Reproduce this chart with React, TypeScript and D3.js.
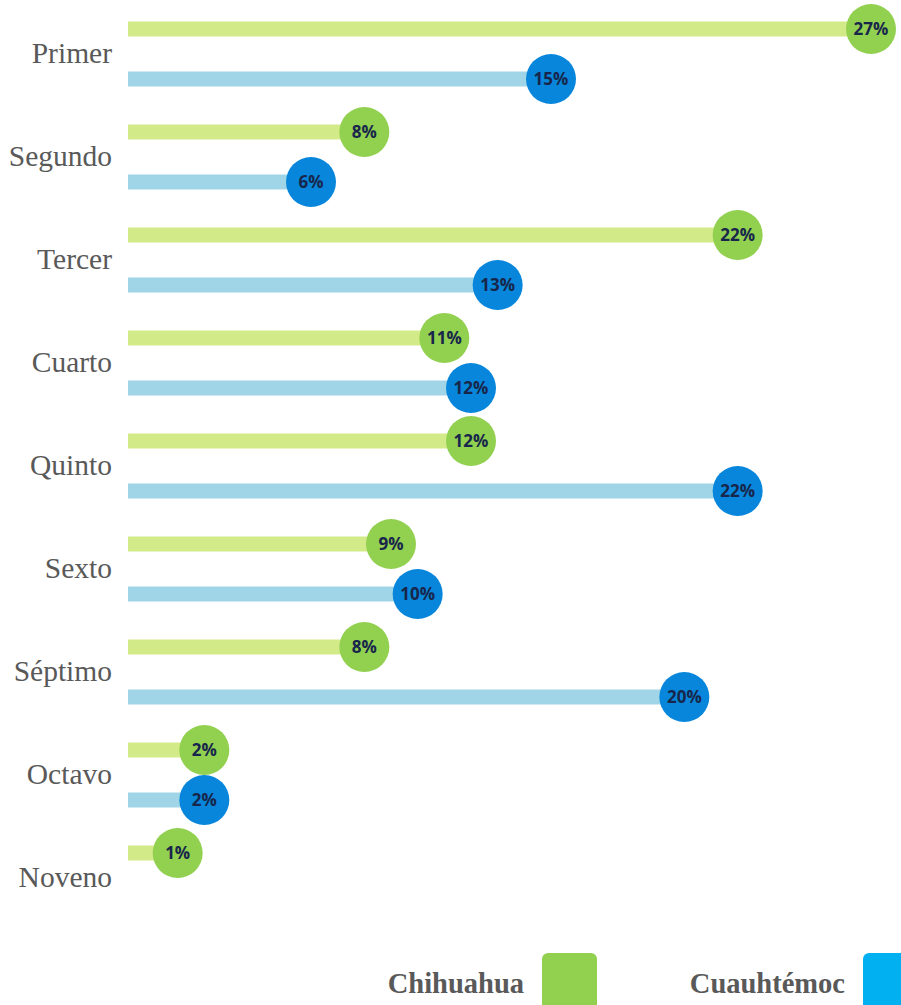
import React, { useEffect } from "react";
import * as d3 from "d3";

type SeriesKey = "Chihuahua" | "Cuauhtémoc";

const categories = [
  "Primer",
  "Segundo",
  "Tercer",
  "Cuarto",
  "Quinto",
  "Sexto",
  "Séptimo",
  "Octavo",
  "Noveno",
];
const chihuahua: (number | null)[] = [27, 8, 22, 11, 12, 9, 8, 2, 1];
const cuauhtemoc: (number | null)[] = [15, 6, 13, 12, 22, 10, 20, 2, null];
const seriesNames: SeriesKey[] = ["Chihuahua", "Cuauhtémoc"];

const barColor = d3
  .scaleOrdinal<SeriesKey, string>()
  .domain(seriesNames)
  .range(["#d2ea87", "#9fd5e6"]);
const dotColor = d3
  .scaleOrdinal<SeriesKey, string>()
  .domain(seriesNames)
  .range(["#92d050", "#0786dc"]);
const legendColor = d3
  .scaleOrdinal<SeriesKey, string>()
  .domain(seriesNames)
  .range(["#92d050", "#00b0f0"]);

const width = 901;
const height = 1005;

const App = () => {
  useEffect(() => {
    document.body.style.margin = "0";
  }, []);

  const x = d3.scaleLinear().domain([0, 27]).range([151, 871]);
  const barStart = 128;

  // one band per grade, split in two rows (one per city)
  const step = 103;
  const y = d3
    .scaleBand<string>()
    .domain(categories)
    .range([4, 4 + step * categories.length - 3])
    .paddingInner(3 / step)
    .paddingOuter(0);
  const sub = d3
    .scaleBand<SeriesKey>()
    .domain(seriesNames)
    .range([0, y.bandwidth()]);

  const rows = categories.flatMap((c, i) =>
    seriesNames.map((s) => ({
      cat: c,
      series: s,
      value: s === "Chihuahua" ? chihuahua[i] : cuauhtemoc[i],
    }))
  ).filter((r) => r.value !== null) as { cat: string; series: SeriesKey; value: number }[];

  const rowY = (r: { cat: string; series: SeriesKey }) =>
    (y(r.cat) ?? 0) + (sub(r.series) ?? 0) + sub.bandwidth() / 2;

  const legendX = d3.scalePoint<SeriesKey>().domain(seriesNames).range([524, 845]);

  return (
    <svg width={width} height={height} style={{ display: "block" }}>
      {categories.map((c) => (
        <text
          key={c}
          x={112}
          y={(y(c) ?? 0) + y.bandwidth() / 2}
          dy="0.3em"
          textAnchor="end"
          fontFamily="'Liberation Serif', 'DejaVu Serif', serif"
          fontSize={29.5}
          fill="#595959"
        >
          {c}
        </text>
      ))}
      {rows.map((r) => (
        <g key={r.cat + r.series}>
          <rect
            x={barStart}
            y={rowY(r) - 7.5}
            width={x(r.value) - barStart}
            height={15}
            fill={barColor(r.series)}
          />
          <circle cx={x(r.value)} cy={rowY(r)} r={25} fill={dotColor(r.series)} />
          <text
            x={x(r.value)}
            y={rowY(r)}
            dy="0.36em"
            textAnchor="middle"
            fontFamily="'Open Sans', sans-serif"
            fontWeight={700}
            fontSize={17}
            fill="#17264a"
          >
            {r.value}%
          </text>
        </g>
      ))}
      {seriesNames.map((s) => (
        <g key={s}>
          <text
            x={legendX(s)}
            y={993}
            textAnchor="end"
            fontFamily="'Liberation Serif', 'DejaVu Serif', serif"
            fontWeight={700}
            fontSize={28.5}
            fill="#595959"
          >
            {s}
          </text>
          <rect
            x={(legendX(s) ?? 0) + 18}
            y={953}
            width={55}
            height={60}
            rx={6}
            fill={legendColor(s)}
          />
        </g>
      ))}
    </svg>
  );
};

export default App;
